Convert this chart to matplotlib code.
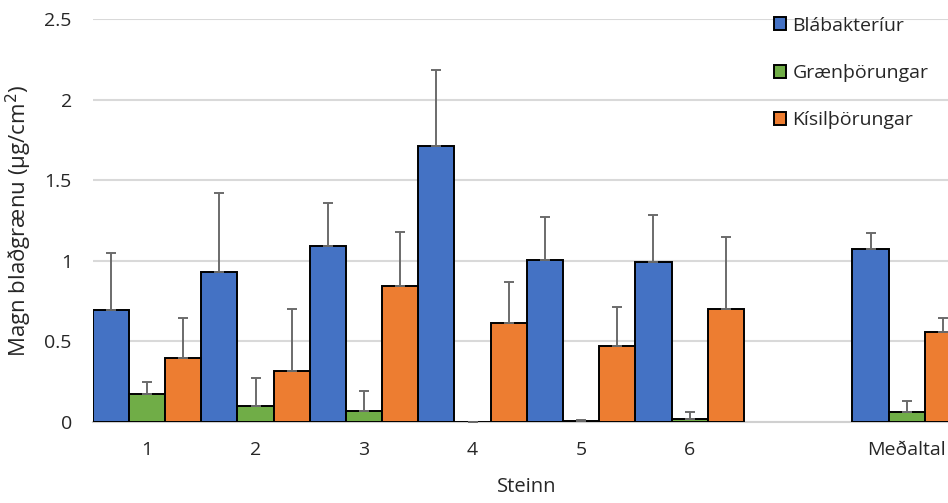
import matplotlib
matplotlib.use("Agg")
import matplotlib.pyplot as plt
import numpy as np

plt.rcParams['font.family'] = ['Open Sans', 'DejaVu Sans']

categories = ['1', '2', '3', '4', '5', '6', '', 'Meðaltal']
series = ['Blábakteríur', 'Grænþörungar', 'Kísilþörungar']
blue_vals = [0.693, 0.932, 1.094, 1.714, 1.003, 0.993, np.nan, 1.073]
blue_err = [0.355, 0.488, 0.264, 0.472, 0.269, 0.291, np.nan, 0.099]
green_vals = [0.174, 0.099, 0.070, 0.0, 0.005, 0.020, np.nan, 0.060]
green_err = [0.076, 0.174, 0.122, 0.0, 0.007, 0.040, np.nan, 0.070]
orange_vals = [0.399, 0.318, 0.844, 0.616, 0.473, 0.699, np.nan, 0.558]
orange_err = [0.246, 0.381, 0.335, 0.251, 0.242, 0.451, np.nan, 0.087]
yticks = [0, 0.5, 1, 1.5, 2, 2.5]
ytick_labels = ['0', '0.5', '1', '1.5', '2', '2.5']

colors = ['#4472C4', '#70AD47', '#ED7D31']

fig = plt.figure(figsize=(9.48, 5.03), dpi=100)
ax = fig.add_axes([92.7 / 948, 81 / 503, (961 - 92.7) / 948, (422 - 19) / 503])

x = np.arange(len(categories))
w = 1 / 3
data = [(blue_vals, blue_err), (green_vals, green_err), (orange_vals, orange_err)]
for i, ((vals, errs), c, name) in enumerate(zip(data, colors, series)):
    pos = x + (i - 1) * w
    v = np.array(vals, dtype=float)
    e = np.array(errs, dtype=float)
    ax.bar(pos, v, width=w, color=c, edgecolor='black', linewidth=1.4,
           label=name, zorder=3)
    ax.errorbar(pos, v, yerr=[np.zeros_like(e), e], fmt='none',
                ecolor='#6b6b6b', elinewidth=1.4, capsize=3.6, capthick=1.4,
                zorder=4)

ax.set_xlim(-0.5, len(categories) - 0.5)
ax.set_ylim(0, 2.5)
ax.set_yticks(yticks)
ax.set_yticklabels(ytick_labels)
ax.set_xticks(x)
ax.set_xticklabels(categories)
ax.tick_params(axis='both', length=0, labelsize=14, colors='#262626')
ax.tick_params(axis='x', pad=14)
ax.tick_params(axis='y', pad=15)
ax.grid(axis='y', color='#d9d9d9', linewidth=1.5, zorder=0)
ax.set_axisbelow(True)
for s in ['top', 'right', 'left']:
    ax.spines[s].set_visible(False)
ax.spines['bottom'].set_color('#d0d0d0')
ax.spines['bottom'].set_linewidth(1.5)

ax.set_xlabel('Steinn', fontsize=14.5, color='#262626', labelpad=13)
ax.set_ylabel('Magn blaðgrænu (µg/cm$^2$)', fontsize=16, color='#262626')
ax.yaxis.set_label_coords((34 - 92.7) / 868.3, 0.5)

leg = ax.legend(loc='upper left', bbox_to_anchor=(766 / 948, 1 - 9 / 503),
                bbox_transform=fig.transFigure,
                frameon=False, fontsize=14, handlelength=0.65, handleheight=0.65,
                handletextpad=0.3, labelspacing=1.5, borderaxespad=0)
for t in leg.get_texts():
    t.set_color('#262626')

fig.savefig('out.png', dpi=100)
